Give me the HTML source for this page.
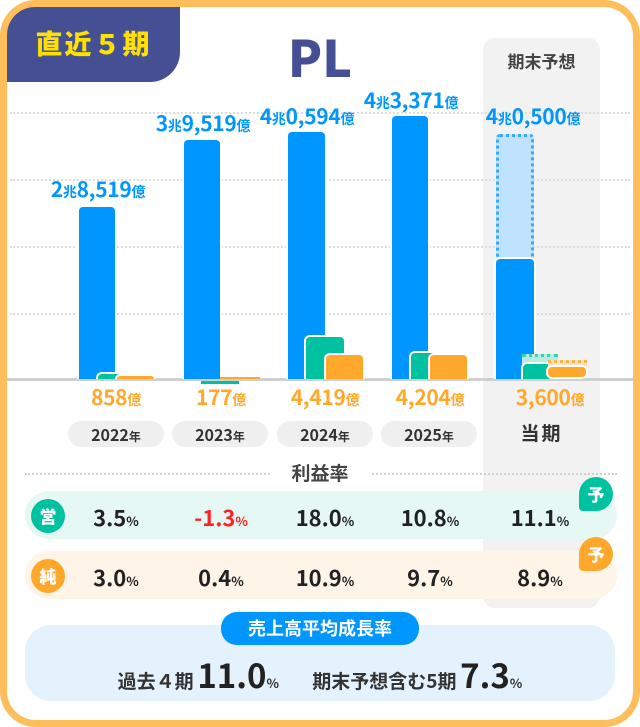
<!DOCTYPE html>
<html><head><meta charset="utf-8"><style>
*{margin:0;padding:0;box-sizing:border-box}
body{width:640px;height:727px;background:#fff;font-family:"Liberation Sans","Noto Sans CJK JP",sans-serif;position:relative;overflow:hidden}
.a{position:absolute}
.frame{left:0;top:0;width:640px;height:727px;border:7px solid #FFBE5C;border-radius:36px;background:#fff}
.tab{left:7px;top:7px;width:173px;height:75px;background:#454F93;border-radius:28px 0 30px 0;color:#FFE000;font-weight:900;font-size:27px;line-height:72px;text-align:center;letter-spacing:2px;font-family:"Noto Sans CJK JP",sans-serif}
.pl{left:270px;top:26px;width:100px;text-align:center;color:#454F93;font-size:50px;font-weight:900;font-family:"Noto Sans CJK JP",sans-serif;line-height:60px}
.gcol{left:483px;top:38px;width:117px;height:570px;background:#f2f2f2;border-radius:12px}
.grid{left:10px;width:620px;height:0;border-top:2px dotted #dcdcdc}
.bar{border:2px solid #fff;border-bottom:none;border-radius:6px 6px 0 0}
.b{background:#0096FF}.g{background:#00C2A0}.o{background:#FFA82B}
.vl{color:#0096FF;font-weight:700;font-size:21px;width:140px;text-align:center;line-height:24px;font-family:"Noto Sans CJK JP",sans-serif;letter-spacing:-0.3px}
.vl small,.ol small{font-size:14px}
.ol{color:#FFA82B;font-weight:700;font-size:21px;width:120px;text-align:center;line-height:24px;top:385px;font-family:"Noto Sans CJK JP",sans-serif;letter-spacing:-0.3px}
.yp{top:421px;height:26px;width:96px;background:#efefef;border-radius:13px;text-align:center;font-size:16px;line-height:26px;color:#333;font-weight:700;font-family:"Noto Sans CJK JP",sans-serif}
.yp small{font-size:12px}
.row{left:25px;width:592px;height:48px;border-radius:24px}
.ic{width:34px;height:34px;border-radius:17px;color:#fff;text-align:center;font-weight:900;font-size:17px;line-height:34px;font-family:"Noto Sans CJK JP",sans-serif}
.pv{width:110px;text-align:center;font-weight:700;font-size:22px;color:#222;line-height:30px;font-family:"Noto Sans CJK JP",sans-serif}
.pv small{font-size:13px}
.yo{width:34px;height:34px;border-radius:17px;color:#fff;text-align:center;font-weight:900;font-size:17px;line-height:34px;font-family:"Noto Sans CJK JP",sans-serif}
</style></head><body>
<div class="a frame"></div>
<div class="a tab">直近５期</div>
<div class="a gcol"></div>
<div class="a pl">PL</div>
<div class="a" style="left:483px;top:48px;width:117px;text-align:center;font-size:17px;font-weight:700;color:#444;font-family:'Noto Sans CJK JP',sans-serif">期末予想</div>
<div class="a grid" style="top:112px"></div>
<div class="a grid" style="top:179px"></div>
<div class="a grid" style="top:246px"></div>
<div class="a grid" style="top:313px"></div>
<div class="a" style="left:7px;top:378px;width:626px;height:3px;background:#cfcfcf"></div>

<div class="a bar b" style="left:77px;top:205px;width:40px;height:174px"></div>
<div class="a bar g" style="left:96px;top:372px;width:40px;height:7px"></div>
<div class="a bar o" style="left:115px;top:374px;width:41px;height:5px"></div>

<div class="a bar b" style="left:182px;top:138px;width:40px;height:241px"></div>
<div class="a g" style="left:201px;top:381px;width:38px;height:3px"></div>
<div class="a o" style="left:220px;top:377px;width:40px;height:2px"></div>

<div class="a bar b" style="left:286px;top:130px;width:41px;height:249px"></div>
<div class="a bar g" style="left:304px;top:335px;width:42px;height:44px"></div>
<div class="a bar o" style="left:324px;top:353px;width:41px;height:26px"></div>

<div class="a bar b" style="left:390px;top:114px;width:40px;height:265px"></div>
<div class="a bar g" style="left:409px;top:351px;width:41px;height:28px"></div>
<div class="a bar o" style="left:428px;top:353px;width:41px;height:26px"></div>

<div class="a" style="left:496px;top:134px;width:38px;height:124px;background:#BFE3FF;border:3px dotted #3AA8FF;border-bottom:none;border-radius:4px 4px 0 0"></div>
<div class="a bar b" style="left:494px;top:257px;width:42px;height:122px"></div>
<div class="a" style="left:522px;top:354px;width:36px;height:10px;background:#B6EDE2;border-top:3px dotted #3FD0B4"></div>
<div class="a bar g" style="left:521px;top:362px;width:38px;height:17px"></div>
<div class="a" style="left:548px;top:360px;width:39px;height:8px;background:#FFE3BE;border-top:3px dotted #FFB24A"></div>
<div class="a bar o" style="left:546px;top:365px;width:42px;height:14px;border-bottom:2px solid #fff;border-radius:6px"></div>

<div class="a vl" style="left:28px;top:177px">2<small>兆</small>8,519<small>億</small></div>
<div class="a vl" style="left:133px;top:111px">3<small>兆</small>9,519<small>億</small></div>
<div class="a vl" style="left:237px;top:104px">4<small>兆</small>0,594<small>億</small></div>
<div class="a vl" style="left:341px;top:88px">4<small>兆</small>3,371<small>億</small></div>
<div class="a vl" style="left:463px;top:104px">4<small>兆</small>0,500<small>億</small></div>

<div class="a ol" style="left:56px">858<small>億</small></div>
<div class="a ol" style="left:161px">177<small>億</small></div>
<div class="a ol" style="left:265px">4,419<small>億</small></div>
<div class="a ol" style="left:370px">4,204<small>億</small></div>
<div class="a ol" style="left:490px">3,600<small>億</small></div>

<div class="a yp" style="left:68px">2022<small>年</small></div>
<div class="a yp" style="left:172px">2023<small>年</small></div>
<div class="a yp" style="left:277px">2024<small>年</small></div>
<div class="a yp" style="left:381px">2025<small>年</small></div>
<div class="a" style="left:483px;top:419px;width:117px;text-align:center;font-size:19px;font-weight:700;color:#333;font-family:'Noto Sans CJK JP',sans-serif;letter-spacing:2px">当期</div>

<div class="a" style="left:25px;top:473px;width:592px;border-top:2px dotted #cfcfcf"></div>
<div class="a" style="left:270px;top:460px;width:100px;text-align:center;background:#fff;font-size:19px;font-weight:700;color:#444;font-family:'Noto Sans CJK JP',sans-serif;line-height:26px">利益率</div>

<div class="a row" style="top:491px;background:#E5F8F4"></div>
<div class="a ic" style="left:31px;top:499px;background:#00C2A0">営</div>
<div class="a pv" style="left:61px;top:502px">3.5<small>%</small></div>
<div class="a pv" style="left:166px;top:502px;color:#FF2222">-1.3<small>%</small></div>
<div class="a pv" style="left:270px;top:502px">18.0<small>%</small></div>
<div class="a pv" style="left:375px;top:502px">10.8<small>%</small></div>
<div class="a pv" style="left:485px;top:502px">11.1<small>%</small></div>
<div class="a yo" style="left:579px;top:477px;background:#00C2A0;border-bottom-left-radius:4px">予</div>

<div class="a row" style="top:551px;background:#FFF4E8"></div>
<div class="a ic" style="left:31px;top:559px;background:#FFA82B">純</div>
<div class="a pv" style="left:61px;top:562px">3.0<small>%</small></div>
<div class="a pv" style="left:166px;top:562px">0.4<small>%</small></div>
<div class="a pv" style="left:270px;top:562px">10.9<small>%</small></div>
<div class="a pv" style="left:375px;top:562px">9.7<small>%</small></div>
<div class="a pv" style="left:485px;top:562px">8.9<small>%</small></div>
<div class="a yo" style="left:579px;top:537px;background:#FFA82B;border-bottom-left-radius:4px">予</div>

<div class="a" style="left:25px;top:625px;width:590px;height:76px;background:#E4F2FD;border-radius:26px"></div>
<div class="a" style="left:221px;top:612px;width:198px;height:33px;background:#0096FF;border-radius:16px;color:#fff;text-align:center;font-size:18px;font-weight:700;line-height:33px;font-family:'Noto Sans CJK JP',sans-serif">売上高平均成長率</div>
<div class="a" style="left:25px;top:654px;width:590px;text-align:center;color:#333;font-weight:700;font-family:'Noto Sans CJK JP',sans-serif;line-height:40px;white-space:nowrap">
<span style="font-size:19px">過去４期</span> <span style="font-size:33px;color:#222">11.0</span><span style="font-size:13px">%</span>
<span style="display:inline-block;width:26px"></span>
<span style="font-size:19px">期末予想含む5期</span> <span style="font-size:33px;color:#222">7.3</span><span style="font-size:13px">%</span>
</div>
</body></html>
